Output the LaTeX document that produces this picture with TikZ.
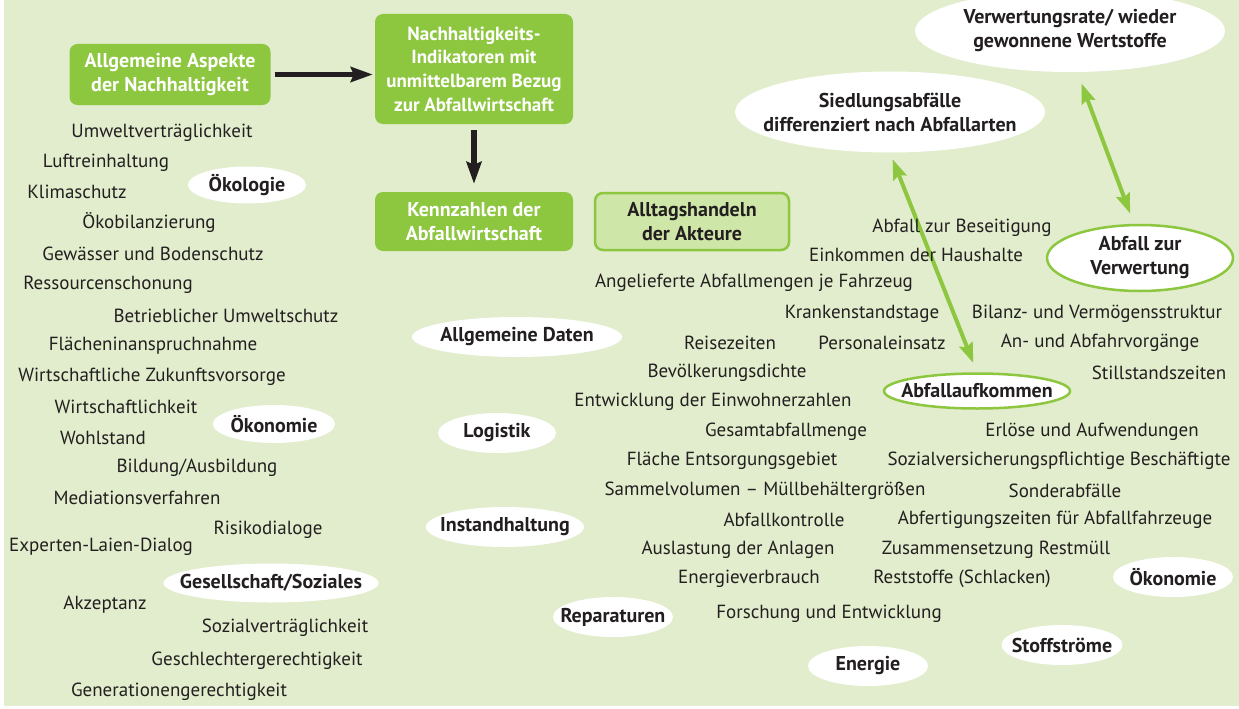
\documentclass[tikz,border=0pt]{standalone}
\usepackage{fontspec}
\setmainfont{PT Sans}
\usetikzlibrary{shapes.geometric,arrows.meta}
\definecolor{hintergrund}{RGB}{225,237,204}
\definecolor{gruen}{RGB}{141,198,63}
\definecolor{hellgruen}{RGB}{206,230,168}
\definecolor{schrift}{RGB}{35,31,32}
\tikzset{
  kasten/.style={fill=gruen, rounded corners=8pt, text=white, align=center, inner sep=0pt,
    font=\fontsize{20}{24}\selectfont\bfseries},
  kastenhell/.style={kasten, fill=hellgruen, draw=gruen, line width=2.5pt, text=schrift},
  oval/.style={ellipse, fill=white, text=schrift, align=center, inner xsep=-12pt, inner ysep=0pt,
    font=\fontsize{20}{24}\selectfont\bfseries},
  ovalrand/.style={oval, draw=gruen, line width=2.5pt},
  begriff/.style={text=schrift, inner sep=0pt, font=\fontsize{19}{22}\selectfont},
  pfeil/.style={line width=5.5pt, schrift, -{Stealth[length=22pt,width=15pt,inset=3pt]}},
  doppelpfeil/.style={line width=4pt, gruen, {Stealth[length=20pt,width=14pt,inset=3pt]}-{Stealth[length=20pt,width=14pt,inset=3pt]}}
}
\begin{document}
\begin{tikzpicture}[x=1pt,y=-1pt]
  \useasboundingbox (0,0) rectangle (1239,709);
  %Hintergrund
  \fill[hintergrund] (4,0) rectangle (1239,706);
  %Kaesten
  \node[kasten, minimum width=201pt, minimum height=61pt] (aspekte) at (170,74.5) {Allgemeine Aspekte\\der Nachhaltigkeit};
  \node[kasten, minimum width=198pt, minimum height=110pt, font=\fontsize{19}{23.7}\selectfont\bfseries] (indikatoren) at (474,69) {Nachhaltigkeits-\\Indikatoren mit\\unmittelbarem Bezug\\zur Abfallwirtschaft};
  \node[kasten, minimum width=198pt, minimum height=59pt] (kennzahlen) at (474,221.5) {Kennzahlen der\\Abfallwirtschaft};
  \node[kastenhell, minimum width=194pt, minimum height=57pt] (alltag) at (692,221.5) {Alltagshandeln\\der Akteure};
  %Ovale
  \node[oval, minimum width=310pt, minimum height=82pt] (verwertungsrate) at (1070,31) {Verwertungsrate/ wieder\\gewonnene Wertstoffe};
  \node[oval, inner xsep=-18pt, minimum width=310pt, minimum height=81pt] (siedlung) at (890,112) {Siedlungsabfälle\\differenziert nach Abfallarten};
  \node[ovalrand, minimum width=186pt, minimum height=66pt] (verwertung) at (1140,258) {Abfall zur\\Verwertung};
  \node[ovalrand, minimum width=186pt, minimum height=35pt] (aufkommen) at (977,391) {Abfallaufkommen};
  \node[oval, minimum width=118pt, minimum height=37pt] (oekologie) at (247,185) {Ökologie};
  \node[oval, minimum width=122pt, minimum height=38pt] (oekonomie) at (274,424) {Ökonomie};
  \node[oval, inner xsep=-15pt, minimum width=215pt, minimum height=39pt] (gesellschaft) at (271,583) {Gesellschaft/Soziales};
  \node[oval, minimum width=210pt, minimum height=40pt] (daten) at (517,337) {Allgemeine Daten};
  \node[oval, minimum width=118pt, minimum height=40pt] (logistik) at (497,433) {Logistik};
  \node[oval, minimum width=158pt, minimum height=40pt] (instand) at (505,527) {Instandhaltung};
  \node[oval, minimum width=120pt, minimum height=40pt] (reparatur) at (613,617) {Reparaturen};
  \node[oval, minimum width=120pt, minimum height=40pt] (energie) at (868,666) {Energie};
  \node[oval, minimum width=121pt, minimum height=40pt] (stoffe) at (1062,645) {Stoffströme};
  \node[oval, minimum width=120pt, minimum height=40pt] (oekonomie2) at (1173,577) {Ökonomie};
  %Pfeile
  \draw[pfeil, shorten <=4pt, shorten >=2pt] (aspekte.east) -- (aspekte.east -| indikatoren.west);
  \draw[pfeil, shorten <=6pt, shorten >=8pt] (indikatoren.south) -- (kennzahlen.north);
  \draw[doppelpfeil, shorten <=7pt, shorten >=10pt] (siedlung.south) -- (aufkommen.north);
  \draw[doppelpfeil, shorten <=12pt, shorten >=11pt] (verwertungsrate.-80) -- (verwertung.100);
  %Begriffe links
  \node[begriff] (t1) at (162,133) {Umweltverträglichkeit};
  \node[begriff] (t2) at (106,163) {Luftreinhaltung};
  \node[begriff] (t3) at (77,192) {Klimaschutz};
  \node[begriff] (t4) at (149,223) {Ökobilanzierung};
  \node[begriff] (t5) at (153,254) {Gewässer und Bodenschutz};
  \node[begriff] (t6) at (108,285) {Ressourcenschonung};
  \node[begriff] (t7) at (226,316) {Betrieblicher Umweltschutz};
  \node[begriff] (t8) at (153,346) {Flächeninanspruchnahme};
  \node[begriff] (t9) at (152,377) {Wirtschaftliche Zukunftsvorsorge};
  \node[begriff] (t10) at (126,407) {Wirtschaftlichkeit};
  \node[begriff] (t11) at (103,438) {Wohlstand};
  \node[begriff] (t12) at (197,468) {Bildung/Ausbildung};
  \node[begriff] (t13) at (137,498) {Mediationsverfahren};
  \node[begriff] (t14) at (268,530) {Risikodialoge};
  \node[begriff] (t15) at (101,547) {Experten-Laien-Dialog};
  \node[begriff] (t16) at (105,605) {Akzeptanz};
  \node[begriff] (t17) at (285,628) {Sozialverträglichkeit};
  \node[begriff] (t18) at (257,661) {Geschlechtergerechtigkeit};
  \node[begriff] (t19) at (179,692) {Generationengerechtigkeit};
  %Begriffe rechts
  \node[begriff] (k1) at (962,228) {Abfall zur Beseitigung};
  \node[begriff] (k2) at (916,255) {Einkommen der Haushalte};
  \node[begriff] (k3) at (754,283) {Angelieferte Abfallmengen je Fahrzeug};
  \node[begriff] (k4) at (862,314) {Krankenstandstage};
  \node[begriff] (k5) at (1097,314) {Bilanz- und Vermögensstruktur};
  \node[begriff] (k6) at (730,343) {Reisezeiten};
  \node[begriff] (k7) at (882,343) {Personaleinsatz};
  \node[begriff] (k8) at (1100,343) {An- und Abfahrvorgänge};
  \node[begriff] (k9) at (727,373) {Bevölkerungsdichte};
  \node[begriff] (k10) at (1159,373) {Stillstandszeiten};
  \node[begriff] (k11) at (713,402) {Entwicklung der Einwohnerzahlen};
  \node[begriff] (k12) at (786,432) {Gesamtabfallmenge};
  \node[begriff] (k13) at (1092,432) {Erlöse und Aufwendungen};
  \node[begriff] (k14) at (732,461) {Fläche Entsorgungsgebiet};
  \node[begriff] (k15) at (1059,461) {Sozialversicherungspflichtige Beschäftigte};
  \node[begriff] (k16) at (765,491) {Sammelvolumen – Müllbehältergrößen};
  \node[begriff] (k17) at (1065,491) {Sonderabfälle};
  \node[begriff] (k18) at (784,520) {Abfallkontrolle};
  \node[begriff] (k19) at (1055,520) {Abfertigungszeiten für Abfallfahrzeuge};
  \node[begriff] (k20) at (738,550) {Auslastung der Anlagen};
  \node[begriff] (k21) at (996,550) {Zusammensetzung Restmüll};
  \node[begriff] (k22) at (749,579) {Energieverbrauch};
  \node[begriff] (k23) at (962,579) {Reststoffe (Schlacken)};
  \node[begriff] (k24) at (829,614) {Forschung und Entwicklung};
\end{tikzpicture}
\end{document}
